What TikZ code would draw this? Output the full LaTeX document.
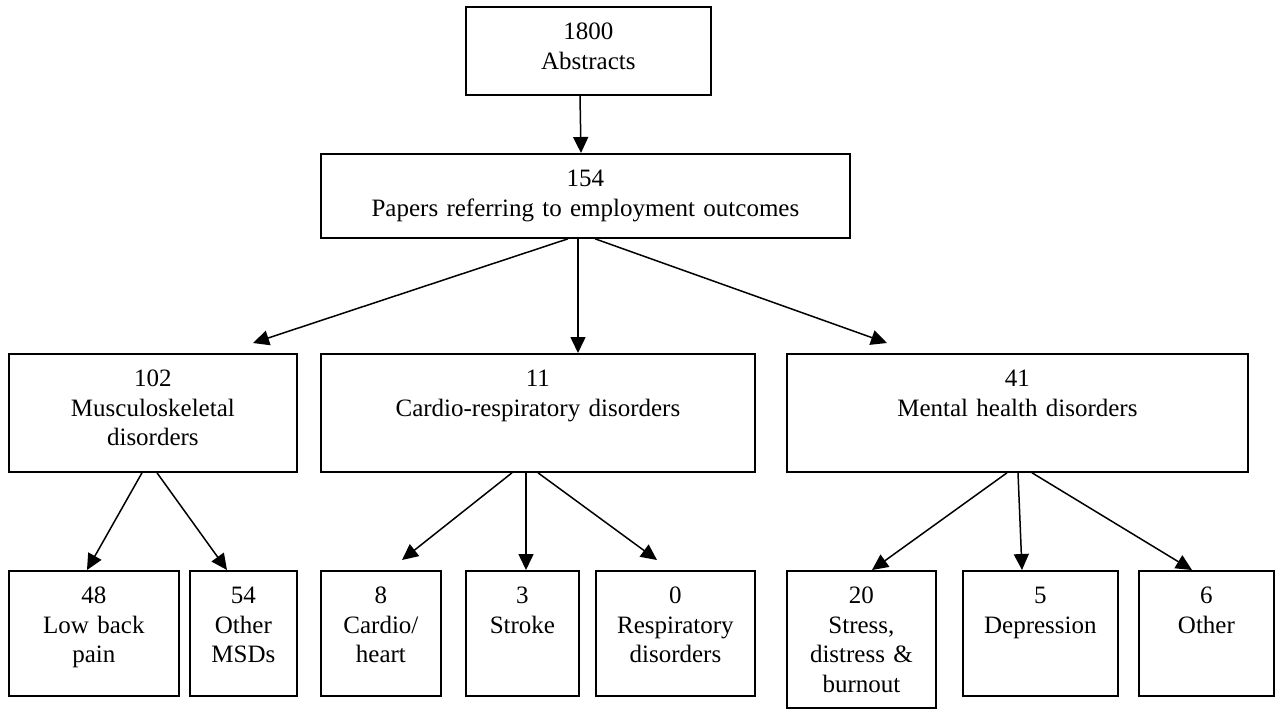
\documentclass[tikz,border=0pt]{standalone}
\usepackage{fontspec}
\setmainfont{Liberation Serif}
\usetikzlibrary{calc}
\usetikzlibrary{arrows.meta}
\tikzset{
  box/.style={draw, line width=0.9pt, anchor=north west, inner sep=0pt,
    align=center, text height=16.5pt, font=\fontsize{12.5}{14.75}\selectfont},
  flow/.style={line width=0.75pt, -{Triangle[length=8pt,width=7.5pt]}}
}

\begin{document}
\begin{tikzpicture}[x=0.5pt,y=-0.5pt]
  \useasboundingbox (0,0) rectangle (1275,708);
  % search
  \node[box, text width=122.5pt, text depth=27.5pt] (abs) at (465,6) {1800\\Abstracts};
  \node[box, text width=264.5pt, text depth=25.5pt] (papers) at (320,153) {154\\Papers referring to employment outcomes};
  % disorder groups
  \node[box, text width=144pt, text depth=42.5pt] (msd) at (8,353) {102\\Musculoskeletal\\disorders};
  \node[box, text width=217pt, text depth=42.5pt] (cardio) at (320,353) {11\\Cardio-respiratory disorders};
  \node[box, text width=230.5pt, text depth=42.5pt] (mental) at (786,353) {41\\Mental health disorders};
  % single disorders
  \node[box, text width=85pt, text depth=46pt] (lbp) at (8,570) {48\\Low back\\pain};
  \node[box, text width=53.5pt, text depth=46pt] (omsd) at (189,570) {54\\Other\\MSDs};
  \node[box, text width=60pt, text depth=46pt] (heart) at (320,570) {8\\Cardio/\\heart};
  \node[box, text width=56.5pt, text depth=46pt] (stroke) at (465,570) {3\\Stroke};
  \node[box, text width=79.5pt, text depth=46pt] (resp) at (595,570) {0\\Respiratory\\disorders};
  \node[box, text width=74.5pt, text depth=52pt] (stress) at (786,570) {20\\Stress,\\distress \&\\burnout};
  \node[box, text width=77.5pt, text depth=46pt] (depr) at (962,570) {5\\Depression};
  \node[box, text width=67.5pt, text depth=46pt] (other) at (1138,570) {6\\Other};
  % arrows
  \draw[flow] ($(abs.south west)+(115,0)$) -- ($(papers.north west)+(261,0)$);
  \draw[flow] ($(papers.south west)+(248,0)$) -- ($(msd.north west)+(245,-10)$);
  \draw[flow] ($(papers.south west)+(258,0)$) -- ($(cardio.north west)+(258,0)$);
  \draw[flow] ($(papers.south west)+(275,0)$) -- ($(mental.north west)+(101,-10)$);
  \draw[flow] ($(msd.south west)+(134,0)$) -- ($(lbp.north west)+(79,0)$);
  \draw[flow] ($(msd.south west)+(149,0)$) -- ($(omsd.north west)+(38,0)$);
  \draw[flow] ($(cardio.south west)+(192,0)$) -- ($(heart.north west)+(82,-10)$);
  \draw[flow] ($(cardio.south west)+(206,0)$) -- ($(stroke.north west)+(61,0)$);
  \draw[flow] ($(cardio.south west)+(218,0)$) -- ($(resp.north west)+(62,-10)$);
  \draw[flow] ($(mental.south west)+(221,0)$) -- ($(stress.north west)+(86,0)$);
  \draw[flow] ($(mental.south west)+(232,0)$) -- ($(depr.north west)+(60,0)$);
  \draw[flow] ($(mental.south west)+(246,0)$) -- ($(other.north west)+(54,0)$);
\end{tikzpicture}
\end{document}
